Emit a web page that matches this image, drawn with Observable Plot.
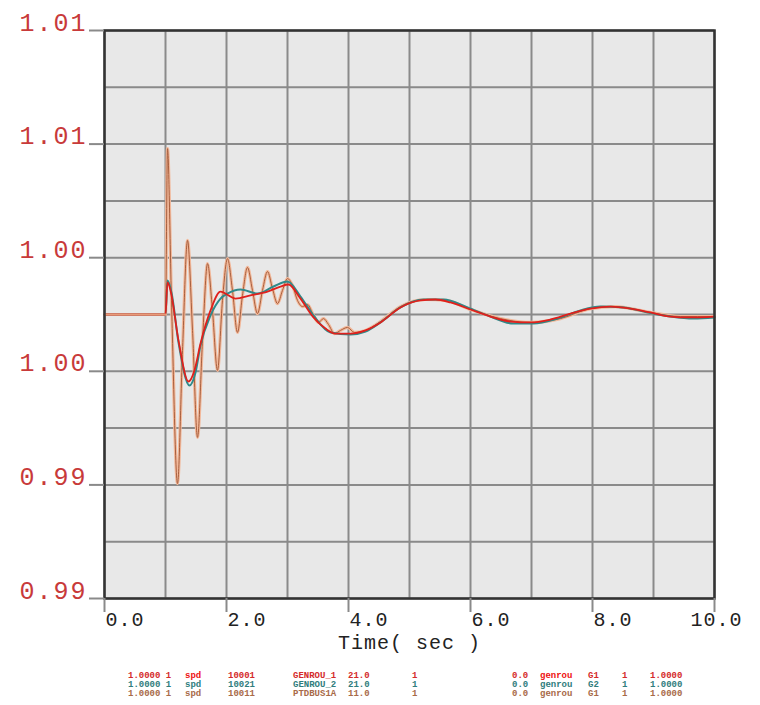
<!DOCTYPE html>
<html>
<head>
<meta charset="utf-8">
<script src="https://cdn.jsdelivr.net/npm/d3@7"></script>
<script src="https://cdn.jsdelivr.net/npm/@observablehq/plot@0.6"></script>
<style>
  html, body { margin: 0; padding: 0; background: #fff; }
  #wrap { position: relative; width: 760px; height: 705px; }
  #chart svg { display: block; }
  g[aria-label="y-axis tick label"] text { letter-spacing: 2px; }
  .xlab text { letter-spacing: 1px; }
  #legend { position: absolute; left: 0; top: 660px; width: 760px; height: 45px;
            font-family: "Liberation Mono", "DejaVu Sans Mono", monospace; font-size: 9px; font-weight: bold; }
  #legend span { position: absolute; white-space: pre; line-height: 9px; }
</style>
</head>
<body>
<div id="wrap">
  <div id="chart"></div>
  <div id="legend"></div>
</div>
<script>
// ---- data ----
const yTicks = [0.9875, 0.9925, 0.9975, 1.0025, 1.0075, 1.0125];
const yTickLabels = ["0.99", "0.99", "1.00", "1.00", "1.01", "1.01"];
const yGrid = [0.9875, 0.99, 0.9925, 0.995, 0.9975, 1.0, 1.0025, 1.005, 1.0075, 1.01, 1.0125];
const xGrid = [0, 1, 2, 3, 4, 5, 6, 7, 8, 9, 10];
const xTicks = [0, 2, 4, 6, 8, 10];
const xTickLabels = ["0.0", "2.0", "4.0", "6.0", "8.0", "10.0"];
const xTitle = "Time( sec )";

const redT = [0, 1.0, 1.033, 1.082, 1.213, 1.377, 1.475, 1.574, 1.738, 1.902, 2.033, 2.148, 2.393, 2.672, 2.885, 3.016, 3.213, 3.426, 3.623, 3.787, 4.033, 4.279, 4.525, 4.852, 5.180, 5.426, 5.672, 6.0, 6.328, 6.656, 6.984, 7.311, 7.639, 7.967, 8.295, 8.623, 8.951, 9.279, 9.607, 10];
const redV = [1.0, 1.0, 1.00141, 1.00106, 0.99886, 0.99705, 0.99754, 0.99872, 1.00018, 1.00101, 1.00084, 1.00070, 1.00084, 1.00101, 1.00123, 1.00132, 1.00070, 0.99987, 0.99938, 0.99916, 0.99916, 0.99930, 0.99965, 1.00031, 1.00062, 1.00066, 1.00053, 1.00022, 0.99991, 0.99969, 0.99965, 0.99978, 1.00004, 1.00026, 1.00035, 1.00026, 1.00009, 0.99991, 0.99987, 0.99991];

const tealT = [0, 1.0, 1.033, 1.098, 1.213, 1.393, 1.492, 1.574, 1.738, 1.902, 2.016, 2.230, 2.508, 2.770, 3.0, 3.213, 3.426, 3.705, 4.033, 4.279, 4.525, 4.852, 5.230, 5.557, 5.951, 6.279, 6.705, 7.033, 7.426, 7.803, 8.131, 8.508, 8.902, 9.279, 9.656, 10];
const tealV = [1.0, 1.0, 1.00150, 1.00097, 0.99877, 0.99688, 0.99745, 0.99864, 0.99996, 1.00070, 1.00092, 1.00110, 1.00092, 1.00123, 1.00145, 1.00079, 0.99996, 0.99921, 0.99912, 0.99925, 0.99965, 1.00031, 1.00066, 1.00066, 1.00031, 0.99996, 0.99960, 0.99960, 0.99982, 1.00018, 1.00035, 1.00031, 1.00009, 0.99991, 0.99982, 0.99987];

const orangeT = [0, 1.0, 1.033, 1.098, 1.197, 1.279, 1.361, 1.443, 1.525, 1.607, 1.689, 1.770, 1.852, 1.934, 2.016, 2.098, 2.180, 2.262, 2.344, 2.426, 2.508, 2.590, 2.672, 2.754, 2.836, 2.918, 3.0, 3.082, 3.164, 3.246, 3.328, 3.426, 3.508, 3.590, 3.672, 3.770, 3.869, 3.984, 4.098, 4.279, 4.525, 4.852, 5.262, 5.590, 6.0, 6.492, 6.984, 7.475, 7.967, 8.377, 8.869, 9.443, 10];
const orangeV = [1.0, 1.0, 1.00730, 1.00062, 0.99256, 0.99842, 1.00326, 0.99930, 0.99459, 0.99886, 1.00224, 1.00018, 0.99754, 1.00062, 1.00246, 1.00106, 0.99921, 1.00084, 1.00207, 1.00106, 1.00004, 1.00106, 1.00189, 1.00114, 1.00048, 1.00106, 1.00158, 1.00128, 1.00062, 1.00035, 1.00044, 0.99996, 0.99965, 0.99982, 0.99956, 0.99916, 0.99930, 0.99943, 0.99921, 0.99930, 0.99969, 1.00035, 1.00066, 1.00062, 1.00022, 0.99982, 0.99965, 0.99982, 1.00026, 1.00035, 1.00013, 0.99991, 0.99991];

const legendRows = [
  ["1.0000 1", "spd", "10001", "GENROU_1", "21.0", "1", "0.0", "genrou", "G1", "1", "1.0000"],
  ["1.0000 1", "spd", "10021", "GENROU_2", "21.0", "1", "0.0", "genrou", "G2", "1", "1.0000"],
  ["1.0000 1", "spd", "10011", "PTDBUS1A", "11.0", "1", "0.0", "genrou", "G1", "1", "1.0000"]
];

// ---- styling ----
const colRed = "#e0201c", colTeal = "#2f8a8a", colOrange = "#a8603f", colOrangeHalo = "#f2b89a";
const yLabMap = new Map(yTicks.map((d, i) => [d, yTickLabels[i]]));
const xLabMap = new Map(xTicks.map((d, i) => [d, xTickLabels[i]]));
const toRows = (T, V) => T.map((t, i) => ({t, v: V[i]}));
const red = toRows(redT, redV), teal = toRows(tealT, tealV), orange = toRows(orangeT, orangeV);
const orangeFlat = orange.filter(d => d.t <= 1.0);
const mono = "Liberation Mono, DejaVu Sans Mono, monospace";

const chart = Plot.plot({
  width: 760,
  height: 660,
  marginLeft: 104,
  marginRight: 46,
  marginTop: 30,
  marginBottom: 62,
  style: {background: "#fff", overflow: "visible"},
  x: {domain: [0, 10], axis: null},
  y: {domain: [0.9875, 1.0125], axis: null},
  marks: [
    Plot.frame({fill: "#e8e8e8", stroke: null}),
    Plot.ruleX(xGrid, {x: d => d, stroke: "#8a8a8a", strokeWidth: 2}),
    Plot.ruleY(yGrid, {y: d => d, stroke: "#8a8a8a", strokeWidth: 2}),
    Plot.line(orange, {x: "t", y: "v", stroke: colOrangeHalo, strokeWidth: 3.2, curve: "monotone-x"}),
    Plot.line(orange, {x: "t", y: "v", stroke: colOrange, strokeWidth: 1, curve: "monotone-x"}),
    Plot.line(teal, {x: "t", y: "v", stroke: colTeal, strokeWidth: 2, curve: "monotone-x"}),
    Plot.line(red, {x: "t", y: "v", stroke: colRed, strokeWidth: 1.8, curve: "monotone-x"}),
    Plot.line(orangeFlat, {x: "t", y: "v", stroke: "#e89a78", strokeWidth: 2}),
    Plot.frame({stroke: "#333", strokeWidth: 2.5}),
    Plot.axisY(yTicks, {label: null, tickSize: 15, tickPadding: 2, tickFormat: d => yLabMap.get(d),
      stroke: "#8a8a8a", strokeWidth: 2, fill: "#c83a3a", fontSize: 25, fontFamily: mono,
      lineAnchor: "bottom", textAnchor: "end"}),
    Plot.axisX(xTicks, {label: null, tickSize: 14, tickFormat: () => "", stroke: "#8a8a8a", strokeWidth: 2}),
    Plot.text(xTicks.filter(d => d < 10), {x: d => d, frameAnchor: "bottom", text: d => xLabMap.get(d),
      textAnchor: "start", lineAnchor: "bottom", dy: 27, dx: 1, fontSize: 20, fontFamily: mono, fill: "#222",
      className: "xlab"}),
    Plot.text(xTicks.filter(d => d === 10), {x: d => d, frameAnchor: "bottom", text: d => xLabMap.get(d),
      textAnchor: "middle", lineAnchor: "bottom", dy: 27, dx: 2, fontSize: 20, fontFamily: mono, fill: "#222",
      className: "xlab"}),
    Plot.text([xTitle], {frameAnchor: "bottom", text: d => d, textAnchor: "middle", lineAnchor: "bottom",
      dy: 50, dx: 0, fontSize: 20, fontFamily: mono, fill: "#222", className: "xlab"})
  ]
});
document.getElementById("chart").appendChild(chart);

// ---- legend (below the SVG) ----
const legendColX = [128, 185, 228, 293, 348, 412, 512, 540, 588, 622, 650];
const legendColors = ["#d42a2a", "#2f7d7d", "#a86a48"];
const legendTop = [12, 21, 30];
const leg = document.getElementById("legend");
legendRows.forEach((row, r) => {
  row.forEach((txt, c) => {
    const s = document.createElement("span");
    s.textContent = txt;
    s.style.left = legendColX[c] + "px";
    s.style.top = legendTop[r] + "px";
    s.style.color = (r === 0 && (c === 1 || c === 7)) ? "#ee1111" : legendColors[r];
    leg.appendChild(s);
  });
});
</script>
</body>
</html>
